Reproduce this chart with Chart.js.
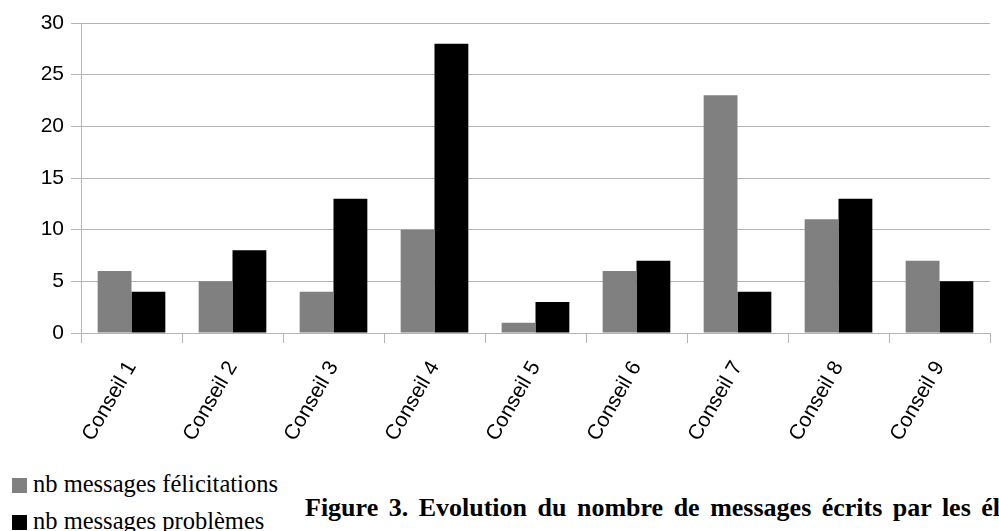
<!DOCTYPE html>
<html>
<head>
<meta charset="utf-8">
<script src="https://cdn.jsdelivr.net/npm/chart.js@4"></script>
<style>
    html, body { margin: 0; padding: 0; background: #fff; }
    body { width: 999px; height: 531px; position: relative; overflow: hidden; }
    #chart-wrap { position: absolute; left: 0; top: 0; width: 999px; height: 450px; }
    .legend-row { position: absolute; left: 12px; font-family: 'Liberation Serif', 'Times New Roman', serif; font-size: 24.5px; line-height: 24px; white-space: nowrap; color: #000; }
    .legend-box { display: inline-block; width: 15px; height: 15px; margin-right: 6px; vertical-align: -1px; }
    #caption { position: absolute; left: 305px; top: 495px; font-family: 'Liberation Serif', 'Times New Roman', serif; font-weight: bold; font-size: 26px; line-height: 26px; white-space: nowrap; color: #000; word-spacing: 4px; }
</style>
</head>
<body>
<div id="chart-wrap"><canvas id="barChart"></canvas></div>
<div id="legend"></div>
<div id="caption">Figure 3. Evolution du nombre de messages écrits par les élèves</div>
<script>
const categories = ['Conseil 1', 'Conseil 2', 'Conseil 3', 'Conseil 4', 'Conseil 5', 'Conseil 6', 'Conseil 7', 'Conseil 8', 'Conseil 9'];
const felicitations = [6, 5, 4, 10, 1, 6, 23, 11, 7];
const problemes = [4, 8, 13, 28, 3, 7, 4, 13, 5];
const seriesLabels = ['nb messages félicitations', 'nb messages problèmes'];
const seriesColors = ['#808080', '#000000'];
const yTicks = [0, 5, 10, 15, 20, 25, 30];

const gridColor = '#b3b3b3';
const canvasHeight = 450;

// legend built from the same series arrays
const legend = document.getElementById('legend');
seriesLabels.forEach((label, i) => {
    const row = document.createElement('div');
    row.className = 'legend-row';
    row.style.top = (472 + i * 37) + 'px';
    row.innerHTML = `<span class="legend-box" style="background:${seriesColors[i]}"></span>${label}`;
    legend.appendChild(row);
});

const ctx = document.getElementById('barChart').getContext('2d');

new Chart(ctx, {
    type: 'bar',
    data: {
        labels: categories,
        datasets: [
            {
                label: seriesLabels[0],
                data: felicitations,
                backgroundColor: seriesColors[0],
                categoryPercentage: 0.67,
                barPercentage: 1.0
            },
            {
                label: seriesLabels[1],
                data: problemes,
                backgroundColor: seriesColors[1],
                categoryPercentage: 0.67,
                barPercentage: 1.0
            }
        ]
    },
    options: {
        responsive: true,
        maintainAspectRatio: false,
        animation: false,
        layout: {
            padding: { top: 23, right: 9, left: 0, bottom: 0 }
        },
        plugins: {
            legend: { display: false },
            tooltip: { enabled: false }
        },
        scales: {
            x: {
                grid: {
                    drawOnChartArea: false,
                    drawTicks: true,
                    tickLength: 10,
                    color: gridColor,
                    offset: true
                },
                border: { color: gridColor },
                ticks: {
                    color: '#000',
                    font: { family: "'Liberation Sans', Arial, sans-serif", size: 21 },
                    minRotation: 60,
                    maxRotation: 60,
                    padding: 14
                },
                afterFit: (scale) => { scale.height = canvasHeight - 333; }
            },
            y: {
                min: 0,
                max: 30,
                afterBuildTicks: (scale) => { scale.ticks = yTicks.map(v => ({ value: v })); },
                grid: {
                    color: gridColor,
                    tickLength: 10,
                    lineWidth: 1
                },
                border: { color: gridColor },
                ticks: {
                    color: '#000',
                    font: { family: "'Liberation Sans', Arial, sans-serif", size: 21 },
                    padding: 7
                },
                afterFit: (scale) => { scale.width = 81; }
            }
        }
    }
});
</script>
</body>
</html>
